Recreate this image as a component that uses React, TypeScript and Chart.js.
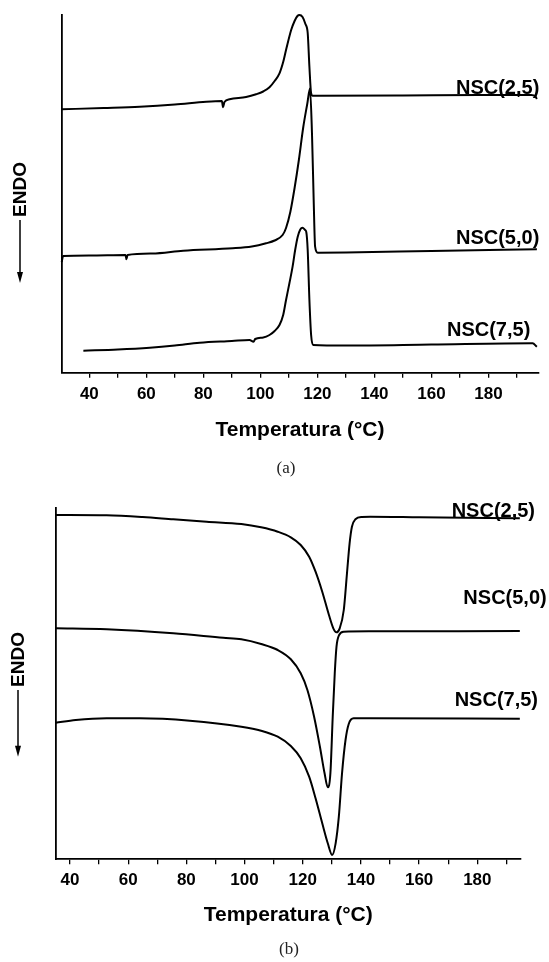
import React, { useEffect, useRef } from "react";
import { Chart, registerables } from "chart.js";

Chart.register(...registerables);

// ---------- DATA ----------
const seriesNames = ["NSC(2,5)", "NSC(5,0)", "NSC(7,5)"];
const tickLabelsX = [40, 60, 80, 100, 120, 140, 160, 180];

// Panel (a) – heating (endothermic peaks), heat flow in arbitrary units
const tempA25 = [30.3, 45, 57.7, 70, 81, 86.5, 86.9, 87.4, 89.2, 95, 98.5, 101, 103.2, 105, 106.7, 108, 109, 110.8, 112, 113, 113.7, 114.8, 115.8, 116.6, 117.2, 117.8, 118.3, 120, 150, 176.6, 195, 196.5, 197];
const flowA25 = [263.4, 264.7, 266, 268.2, 271, 271.7, 265.4, 270.7, 273.4, 275.7, 278.4, 281.2, 285.4, 291.7, 299.4, 310.7, 322.7, 342.7, 351.7, 356.7, 357.7, 355.7, 348.7, 339.7, 306, 279.4, 277, 276.9, 277.2, 277.7, 277.7, 276.2, 273.7];

const tempA50 = [30.3, 30.8, 40, 52.7, 53, 53.4, 62, 72.9, 90.3, 97, 102, 105, 107.8, 109, 110.5, 112, 113.5, 115, 116.5, 117.4, 118.1, 118.7, 119.2, 120.1, 130, 160, 197];
const flowA50 = [110.7, 116.7, 117.2, 117.7, 113.4, 117.7, 119.2, 122, 124.4, 126.2, 129.4, 132.2, 137.7, 144.7, 160.7, 184.7, 212.7, 244.7, 269.7, 284.2, 239.7, 172.7, 126, 120, 120.2, 121.7, 123.4];

const tempA75 = [37.9, 50, 61.2, 70, 78.7, 90, 96.2, 97.6, 98.2, 101, 103.2, 105, 106.7, 108, 109, 110.2, 111.3, 112.2, 113.1, 114, 114.8, 115.7, 116.1, 116.6, 117.2, 117.8, 118.5, 130, 160, 195.5, 197];
const flowA75 = [22, 23.2, 25, 27.2, 30, 31.7, 32.7, 31, 33.7, 35.2, 37.7, 41.7, 47.7, 57.7, 72.7, 89.7, 106, 122.7, 136, 143.2, 145, 142.7, 140.7, 122.7, 72.7, 37.7, 27.7, 27.2, 28.2, 29.4, 26];

// Panel (b) – cooling (crystallisation dips)
const tempB25 = [35.1, 52.6, 65, 75.5, 87, 98.9, 105.7, 111.4, 115.9, 119.3, 122.2, 124.4, 126.7, 129, 130.5, 131.6, 132.7, 134.1, 135.2, 136.1, 136.9, 138.1, 140.3, 143.2, 160, 194.6];
const flowB25 = [344.3, 344, 342.3, 340, 337.6, 335.3, 332, 327.6, 322, 314.3, 302.6, 287.6, 267.6, 244.3, 231, 227, 231, 249.3, 286, 316, 332.6, 340, 342.3, 342.5, 342, 341];

const tempB50 = [35.1, 52.6, 75.5, 92.7, 98.9, 105.7, 111.4, 115.9, 119.3, 121.6, 123.9, 125.9, 127.5, 128.6, 129.5, 130.3, 131, 131.6, 132.5, 134.1, 143.2, 194.6];
const flowB50 = [231, 230, 226, 221.5, 220, 215.3, 209.3, 200, 186, 169.3, 142.6, 112.6, 86, 72, 86, 142.6, 186, 212.6, 224.3, 227.6, 228, 228.3];

const tempB75 = [35.1, 42, 52.6, 64, 81.2, 98.9, 105.7, 111.4, 115.9, 119.3, 122.2, 124.4, 126.7, 128.6, 130.1, 131.3, 132.4, 133.5, 134.7, 135.8, 137.5, 143.2, 194.6];
const flowB75 = [136.6, 139.3, 141, 141, 138.6, 132.6, 128.6, 122.6, 113.3, 101, 82.6, 61, 36, 16, 4.3, 16, 42.6, 86, 119.3, 135.3, 141, 141, 140.6];

// ---------- STYLE ----------
const FONT = "'Liberation Sans', Arial, Helvetica, sans-serif";

type Panel = {
  temps: number[][];
  flows: number[][];
  xMin: number;
  xMax: number;
  yMax: number;
  height: number;
  pad: { left: number; right: number; top: number };
  axisHeight: number;
  titlePadBottom: number;
  labelOffsets: number[][];
  endo: { x: number; textY: number; lineTop: number; tip: number };
};

const panelA: Panel = {
  temps: [tempA25, tempA50, tempA75],
  flows: [flowA25, flowA50, flowA75],
  xMin: 30.3,
  xMax: 197.5,
  yMax: 357.7,
  height: 480,
  pad: { left: 61.7, right: 10.7, top: 15 },
  axisHeight: 107.3,
  titlePadBottom: 37,
  labelOffsets: [[1, -11], [1, -11.3], [-8, -16.7]],
  endo: { x: 20, textY: 189.5, lineTop: 220, tip: 283 },
};

const panelB: Panel = {
  temps: [tempB25, tempB50, tempB75],
  flows: [flowB25, flowB50, flowB75],
  xMin: 35.1,
  xMax: 194.9,
  yMax: 351,
  height: 482,
  pad: { left: 55.7, right: 28.3, top: 28.3 },
  axisHeight: 102.7,
  titlePadBottom: 34,
  labelOffsets: [[14.3, -6.8], [26, -33], [17.3, -18.7]],
  endo: { x: 18, textY: 179.5, lineTop: 210, tip: 276.7 },
};

const annotPlugin = {
  id: "curveAnnotations",
  afterDatasetsDraw(chart: any, _args: any, opts: any) {
    const ctx = chart.ctx as CanvasRenderingContext2D;
    const area = chart.chartArea;
    ctx.save();
    ctx.fillStyle = "#000";
    ctx.strokeStyle = "#000";
    ctx.font = `bold 20px ${FONT}`;
    ctx.textAlign = "right";
    ctx.textBaseline = "middle";
    chart.data.datasets.forEach((ds: any, i: number) => {
      const meta = chart.getDatasetMeta(i);
      const last = meta.data[meta.data.length - 1];
      const off = opts.labelOffsets[i];
      ctx.fillText(ds.label, area.right + off[0], last.y + off[1]);
    });
    const e = opts.endo;
    ctx.save();
    ctx.translate(e.x, e.textY);
    ctx.rotate(-Math.PI / 2);
    ctx.textAlign = "center";
    ctx.font = `bold 19px ${FONT}`;
    ctx.fillText("ENDO", 0, 1);
    ctx.restore();
    ctx.lineWidth = 1.5;
    ctx.beginPath();
    ctx.moveTo(e.x, e.lineTop);
    ctx.lineTo(e.x, e.tip - 8);
    ctx.stroke();
    ctx.beginPath();
    ctx.moveTo(e.x - 3, e.tip - 11);
    ctx.lineTo(e.x + 3, e.tip - 11);
    ctx.lineTo(e.x, e.tip);
    ctx.closePath();
    ctx.fill();
    ctx.restore();
  },
};

function buildConfig(p: Panel): any {
  return {
    type: "line",
    data: {
      datasets: seriesNames.map((name, i) => ({
        label: name,
        data: p.temps[i].map((t, j) => ({ x: t, y: p.flows[i][j] })),
        borderColor: "#000",
        borderWidth: 2,
        pointRadius: 0,
        fill: false,
        cubicInterpolationMode: "monotone",
        clip: 6,
      })),
    },
    options: {
      responsive: false,
      animation: false,
      events: [],
      layout: { padding: { left: p.pad.left, right: p.pad.right, top: p.pad.top, bottom: 0 } },
      plugins: {
        legend: { display: false },
        tooltip: { enabled: false },
        curveAnnotations: { labelOffsets: p.labelOffsets, endo: p.endo },
      },
      scales: {
        x: {
          type: "linear",
          min: p.xMin,
          max: p.xMax,
          afterFit: (s: any) => {
            s.height = p.axisHeight;
          },
          border: { display: true, color: "#000", width: 1.8 },
          grid: {
            display: true,
            drawOnChartArea: false,
            drawTicks: true,
            tickLength: 5,
            color: "#000",
            lineWidth: 1.3,
          },
          ticks: {
            stepSize: 10,
            includeBounds: false,
            autoSkip: false,
            maxRotation: 0,
            maxTicksLimit: 100,
            padding: 6,
            color: "#000",
            font: { family: FONT, size: 17, weight: "bold" },
            callback: (v: number) => (tickLabelsX.includes(v) ? String(v) : ""),
          },
          title: {
            display: true,
            text: "Temperatura (°C)",
            color: "#000",
            font: { family: FONT, size: 21, weight: "bold" },
            padding: { top: 0, bottom: p.titlePadBottom },
          },
        },
        y: {
          type: "linear",
          min: 0,
          max: p.yMax,
          afterFit: (s: any) => {
            s.width = 0;
          },
          border: { display: true, color: "#000", width: 1.8 },
          grid: { display: false, drawTicks: false },
          ticks: { display: false },
        },
      },
    },
    plugins: [annotPlugin],
  };
}

function PanelChart({ panel, top }: { panel: Panel; top: number }) {
  const ref = useRef<HTMLCanvasElement | null>(null);
  useEffect(() => {
    if (!ref.current) return;
    const chart = new Chart(ref.current, buildConfig(panel));
    return () => chart.destroy();
  }, [panel]);
  return (
    <canvas
      ref={ref}
      width={549}
      height={panel.height}
      style={{ position: "absolute", left: 0, top, width: 549, height: panel.height }}
    />
  );
}

const captionStyle: React.CSSProperties = {
  position: "absolute",
  left: 236,
  width: 100,
  textAlign: "center",
  fontFamily: "'Liberation Serif', 'DejaVu Serif', serif",
  fontSize: 17,
  lineHeight: "20px",
  color: "#222",
};

export default function App() {
  return (
    <div style={{ position: "absolute", left: 0, top: 0, width: 549, height: 962, background: "#fff", overflow: "hidden" }}>
      <PanelChart panel={panelA} top={0} />
      <div style={{ ...captionStyle, top: 458 }}>(a)</div>
      <PanelChart panel={panelB} top={480} />
      <div style={{ ...captionStyle, top: 939, left: 239 }}>(b)</div>
    </div>
  );
}
